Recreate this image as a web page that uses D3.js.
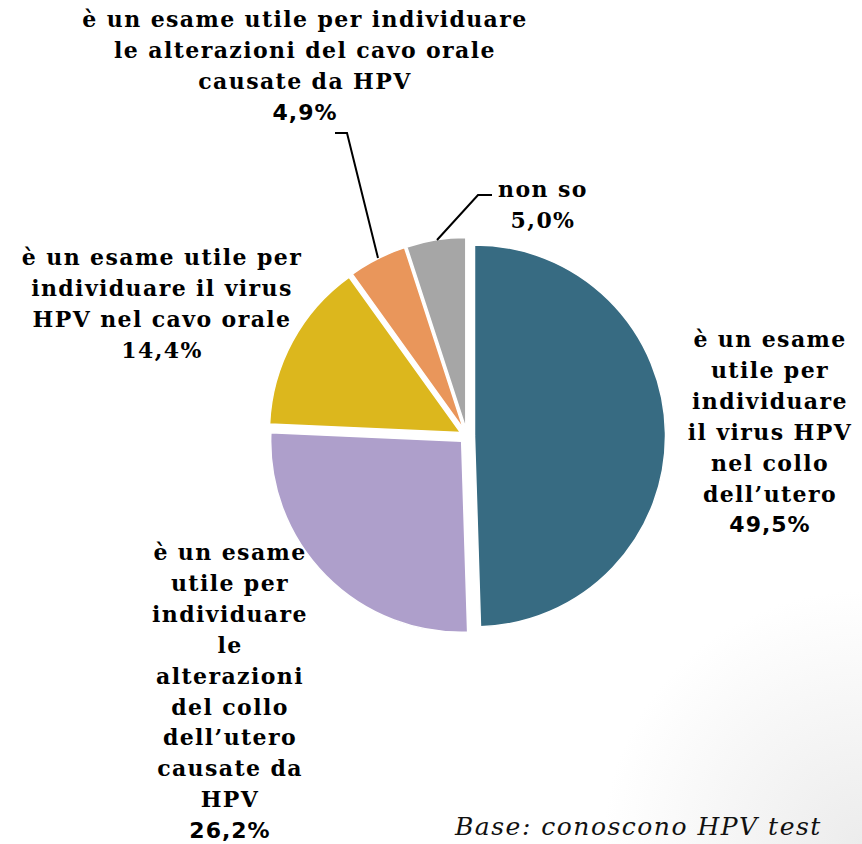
<!DOCTYPE html>
<html>
<head>
<meta charset="utf-8">
<script src="https://cdn.jsdelivr.net/npm/d3@7"></script>
<style>
  body { margin: 0; background: #fff; }
  .pie-label { font-family: "DejaVu Serif", serif; font-weight: bold; font-size: 22px; letter-spacing: 1.4px; fill: #000; }
  .pct-sans { font-family: "DejaVu Sans", sans-serif; letter-spacing: 1px; }
  .base-note { font-family: "DejaVu Serif", serif; font-style: italic; font-size: 25px; letter-spacing: 1.5px; fill: #111; }
</style>
</head>
<body>
<div id="pie-container"></div>
<script>
// Categories (clockwise from 12 o'clock), label lines and values
const categories = [
  "nel collo dell'utero",
  "alterazioni collo dell'utero",
  "virus nel cavo orale",
  "alterazioni cavo orale",
  "non so"
];
const values = [49.5, 26.2, 14.4, 4.9, 5.0];
const labelLines = [
  ["è un esame", "utile per", "individuare", "il virus HPV", "nel collo", "dell’utero"],
  ["è un esame", "utile per", "individuare", "le", "alterazioni", "del collo", "dell’utero", "causate da", "HPV"],
  ["è un esame utile per", "individuare il virus", "HPV nel cavo orale"],
  ["è un esame utile per individuare", "le alterazioni del cavo orale", "causate da HPV"],
  ["non so"]
];
const colors = ["#376b82", "#ae9fcb", "#dcb71d", "#e9965b", "#a6a6a6"];

document.addEventListener('DOMContentLoaded', drawPie());

function drawPie() {
  const svgWidth = 862;
  const svgHeight = 844;

  const svg = d3.select("#pie-container").append("svg")
      .attr("width", svgWidth)
      .attr("height", svgHeight)
      .style("display", "block");

  // faint grey shading in the bottom right corner
  const defs = svg.append("defs");
  const shade = defs.append("radialGradient")
      .attr("id", "corner-shade")
      .attr("cx", "100%").attr("cy", "100%").attr("r", "30%");
  shade.append("stop").attr("offset", "0%").attr("stop-color", "#ececec");
  shade.append("stop").attr("offset", "100%").attr("stop-color", "#ffffff");
  svg.append("rect")
      .attr("width", svgWidth).attr("height", svgHeight)
      .style("fill", "url(#corner-shade)");

  // pie geometry
  const cx = 467, cy = 436, radius = 191, explode = 7.5;

  const pie = d3.pie().sort(null).value(d => d);
  const arcs = pie(values);
  const arc = d3.arc().innerRadius(0).outerRadius(radius);

  const g = svg.append("g").attr("transform", `translate(${cx},${cy})`);

  g.selectAll("path")
    .data(arcs)
    .enter().append("path")
      .attr("d", arc)
      .attr("transform", d => {
        const mid = (d.startAngle + d.endAngle) / 2;
        return `translate(${explode * Math.sin(mid)},${-explode * Math.cos(mid)})`;
      })
      .style("fill", (d, i) => colors[i])
      .style("stroke", "#fff")
      .style("stroke-width", 1.5);

  // label anchors (center x, first baseline)
  const labelPos = [
    { x: 770, y: 347 },
    { x: 230, y: 560 },
    { x: 162, y: 265 },
    { x: 305, y: 27 },
    { x: 543, y: 197 }
  ];
  const lineHeight = 30.9;
  const sansPct = new Set([0, 1, 3]);

  labelLines.forEach((lines, i) => {
    const t = svg.append("text")
        .attr("class", "pie-label")
        .attr("text-anchor", "middle")
        .attr("x", labelPos[i].x)
        .attr("y", labelPos[i].y);
    lines.forEach((line, j) => {
      t.append("tspan")
        .attr("x", labelPos[i].x)
        .attr("dy", j === 0 ? 0 : lineHeight)
        .text(line);
    });
    t.append("tspan")
      .attr("x", labelPos[i].x)
      .attr("dy", lineHeight)
      .attr("class", sansPct.has(i) ? "pct-sans" : null)
      .text(d3.format(".1f")(values[i]).replace(".", ",") + "%");
  });

  // leader lines to the two small slices
  const leader = d3.line();
  svg.append("path")
      .attr("d", leader([[335, 133], [347, 133], [378, 258]]))
      .style("fill", "none").style("stroke", "#000").style("stroke-width", 2);
  svg.append("path")
      .attr("d", leader([[492, 195], [478, 195], [437, 240]]))
      .style("fill", "none").style("stroke", "#000").style("stroke-width", 2);

  svg.append("text")
      .attr("class", "base-note")
      .attr("x", 455)
      .attr("y", 835)
      .text("Base: conoscono HPV test");
}
</script>
</body>
</html>
